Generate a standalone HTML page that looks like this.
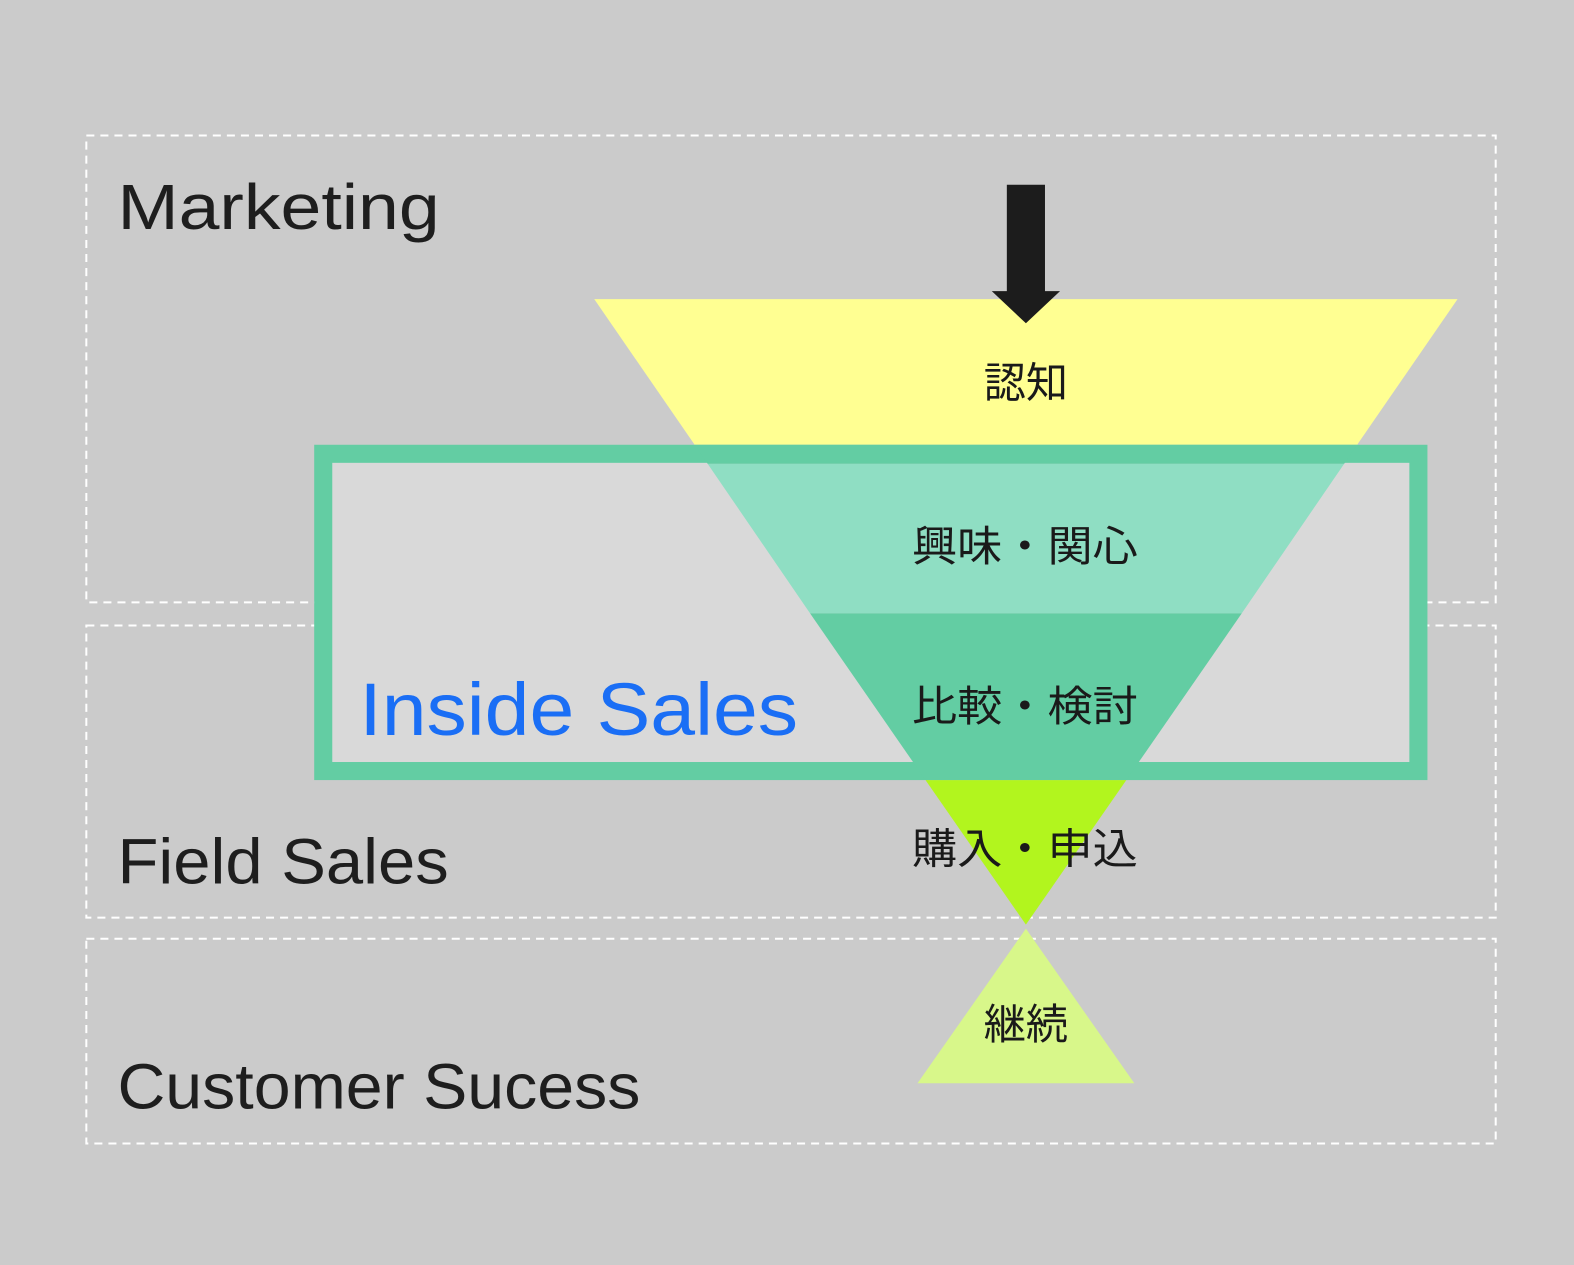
<!DOCTYPE html>
<html><head><meta charset="utf-8"><style>
html,body{margin:0;padding:0;background:#cbcbcb}
svg{display:block}
</style></head><body>
<svg width="1574" height="1265" viewBox="0 0 1568 1260" preserveAspectRatio="none" xmlns="http://www.w3.org/2000/svg">
<rect x="0" y="0" width="1568" height="1260" fill="#cbcbcb"/>
<g fill="none" stroke="#ffffff" stroke-width="2" stroke-dasharray="8 6">
<rect x="86" y="135" width="1404" height="465"/>
<rect x="86" y="623" width="1404" height="291"/>
<rect x="86" y="935" width="1404" height="204"/>
</g>
<rect x="322" y="452" width="1091" height="316" fill="#d9d9d9" stroke="#63cda3" stroke-width="18"/>
<polygon points="592,298 1452,298 1352,443 692,443" fill="#ffff92"/>
<polygon points="692,443 1352,443 1339,462 705,462" fill="#63cda3"/>
<polygon points="705,462 1339,462 1237,611 807,611" fill="#8fdec3"/>
<polygon points="807,611 1237,611 1122,777 922,777" fill="#63cda3"/>
<polygon points="922,777 1122,777 1022,921" fill="#b2f51e"/>
<polygon points="1022,925 1130,1079 914,1079" fill="#d8f78a"/>
<polygon points="1003,184 1041,184 1041,290 1056,290 1022,322 988,290 1003,290" fill="#1c1c1c"/>
<g font-family="'Liberation Sans','Noto Sans CJK JP',sans-serif" fill="#1a1a1a" text-anchor="middle" font-size="42">
<text x="1022" y="396">認知</text>
<text x="1021" y="559" textLength="225" lengthAdjust="spacingAndGlyphs">興味・関心</text>
<text x="1021" y="718" textLength="225" lengthAdjust="spacingAndGlyphs">比較・検討</text>
<text x="1021" y="860" textLength="225" lengthAdjust="spacingAndGlyphs">購入・申込</text>
<text x="1022" y="1035">継続</text>
</g>
<g font-family="'Liberation Sans',sans-serif" fill="#1e1e1e" font-size="64">
<text x="117" y="228" textLength="321" lengthAdjust="spacingAndGlyphs">Marketing</text>
<text x="117" y="880" textLength="330" lengthAdjust="spacingAndGlyphs">Field Sales</text>
<text x="117" y="1104" textLength="521" lengthAdjust="spacingAndGlyphs">Customer Sucess</text>
</g>
<text x="358" y="732" font-family="'Liberation Sans',sans-serif" font-size="74" fill="#1a6ef5" textLength="437" lengthAdjust="spacingAndGlyphs">Inside Sales</text>
</svg>
</body></html>
